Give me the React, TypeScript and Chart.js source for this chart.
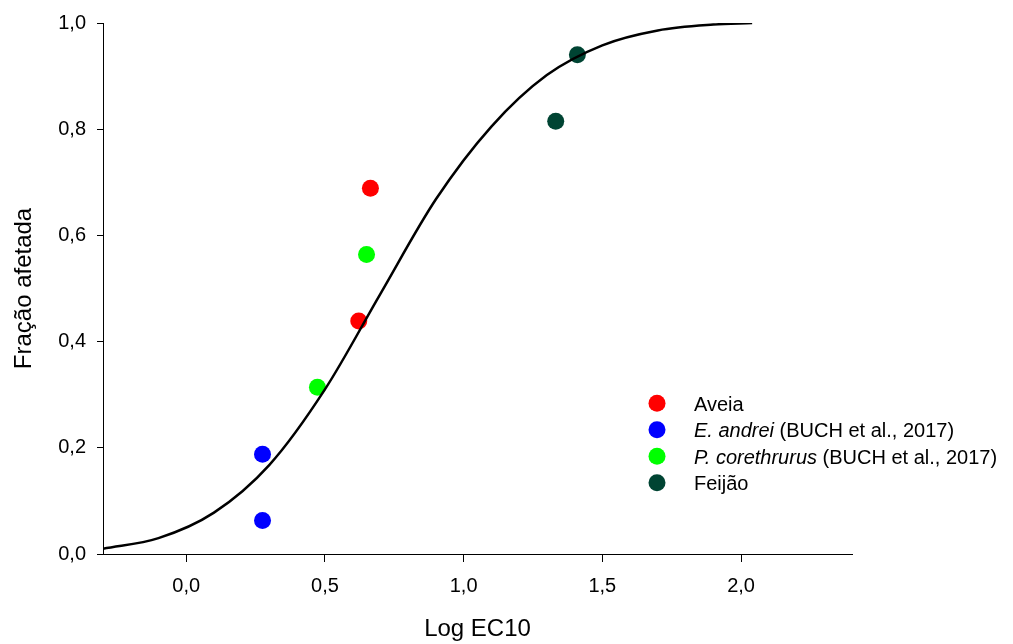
import React, { useEffect, useRef } from "react";
import { Chart, registerables } from "chart.js";

Chart.register(...registerables);

// ---- data ----
const curveX = [-0.30, -0.10, 0.10, 0.30, 0.50, 0.70, 0.90, 1.10, 1.30, 1.50, 1.70, 1.90, 2.04];
const curveY = [0.010, 0.030, 0.078, 0.168, 0.310, 0.490, 0.668, 0.805, 0.902, 0.958, 0.986, 0.997, 1.0];

const aveiaX = [0.622, 0.664];
const aveiaY = [0.439, 0.689];
const andreiX = [0.275, 0.275];
const andreiY = [0.188, 0.063];
const coreX = [0.473, 0.650];
const coreY = [0.314, 0.564];
const feijaoX = [1.332, 1.410];
const feijaoY = [0.815, 0.940];

const seriesNames = ["Aveia", "E. andrei", "P. corethrurus", "Feijão"];
const seriesItalic = [false, true, true, false];
const seriesSuffix = ["", " (BUCH et al., 2017)", " (BUCH et al., 2017)", ""];
const seriesColors = ["#ff0000", "#0000ff", "#00ff00", "#004433"];
const seriesX = [aveiaX, andreiX, coreX, feijaoX];
const seriesY = [aveiaY, andreiY, coreY, feijaoY];

const xTickValues = [0, 0.5, 1.0, 1.5, 2.0];
const yTickValues = [0, 0.2, 0.4, 0.6, 0.8, 1.0];
const xTitle = "Log EC10";
const yTitle = "Fração afetada";

const FONT = '"Liberation Sans", Arial, sans-serif';

const fmt = (v: number) => v.toFixed(1).replace(".", ",");

const legendPlugin = {
  id: "customLegend",
  afterDraw(chart: any) {
    const ctx = chart.ctx;
    ctx.save();
    const mx = 657;
    const y0 = 403.3;
    const dy = 26.5;
    const tx = 694;
    seriesNames.forEach((name, i) => {
      const y = y0 + i * dy;
      ctx.beginPath();
      ctx.fillStyle = seriesColors[i];
      ctx.arc(mx, y, 8.5, 0, Math.PI * 2);
      ctx.fill();
      ctx.fillStyle = "#000";
      ctx.textBaseline = "middle";
      ctx.textAlign = "left";
      ctx.font = (seriesItalic[i] ? "italic " : "") + "20px " + FONT;
      ctx.fillText(name, tx, y + 2);
      const w = ctx.measureText(name).width;
      if (seriesSuffix[i]) {
        ctx.font = "20px " + FONT;
        ctx.fillText(seriesSuffix[i], tx + w, y + 2);
      }
    });
    ctx.restore();
  },
};

export default function App() {
  const ref = useRef<HTMLCanvasElement | null>(null);
  useEffect(() => {
    if (!ref.current) return;
    Chart.defaults.font.family = FONT;
    const datasets: any[] = [
      {
        type: "line",
        label: "curve",
        data: curveX.map((x, i) => ({ x, y: curveY[i] })),
        borderColor: "#000",
        borderWidth: 2.5,
        pointRadius: 0,
        fill: false,
        cubicInterpolationMode: "monotone",
        order: 0,
      },
      ...seriesNames.map((name, i) => ({
        type: "scatter",
        label: name,
        data: seriesX[i].map((x, j) => ({ x, y: seriesY[i][j] })),
        backgroundColor: seriesColors[i],
        borderColor: seriesColors[i],
        borderWidth: 0,
        pointRadius: 8.5,
        order: 1,
      })),
    ];
    const chart = new Chart(ref.current, {
      type: "scatter",
      data: { datasets },
      plugins: [legendPlugin],
      options: {
        animation: false,
        responsive: false,
        layout: { padding: { top: 23, right: 161, left: 0, bottom: 0 } },
        plugins: { legend: { display: false }, tooltip: { enabled: false } },
        scales: {
          x: {
            type: "linear",
            min: -0.3,
            max: 2.4,
            afterFit: (s: any) => { s.height = 90; },
            afterBuildTicks: (s: any) => { s.ticks = xTickValues.map((v) => ({ value: v })); },
            grid: { drawOnChartArea: false, tickLength: 8, color: "#000", lineWidth: 1 },
            border: { display: true, color: "#000", width: 1 },
            ticks: {
              color: "#000",
              font: { size: 20, family: FONT },
              padding: 12,
              maxRotation: 0,
              callback: (v: any) => fmt(Number(v)),
            },
            title: {
              display: true,
              text: xTitle,
              color: "#000",
              font: { size: 24, family: FONT },
              padding: { top: 0, bottom: 0 },
            },
          },
          y: {
            type: "linear",
            min: 0,
            max: 1.0,
            afterFit: (s: any) => { s.width = 103; },
            afterBuildTicks: (s: any) => { s.ticks = yTickValues.map((v) => ({ value: v })); },
            grid: { drawOnChartArea: false, tickLength: 6, color: "#000", lineWidth: 1 },
            border: { display: true, color: "#000", width: 1 },
            ticks: {
              color: "#000",
              font: { size: 20, family: FONT },
              padding: 11,
              callback: (v: any) => fmt(Number(v)),
            },
            title: {
              display: true,
              text: yTitle,
              color: "#000",
              font: { size: 24, family: FONT },
              padding: { top: 10, bottom: 0 },
            },
          },
        },
      },
    });
    return () => chart.destroy();
  }, []);
  return (
    <canvas
      ref={ref}
      width={1013}
      height={644}
      style={{ position: "absolute", left: 0, top: 0, display: "block", width: 1013, height: 644 }}
    />
  );
}
